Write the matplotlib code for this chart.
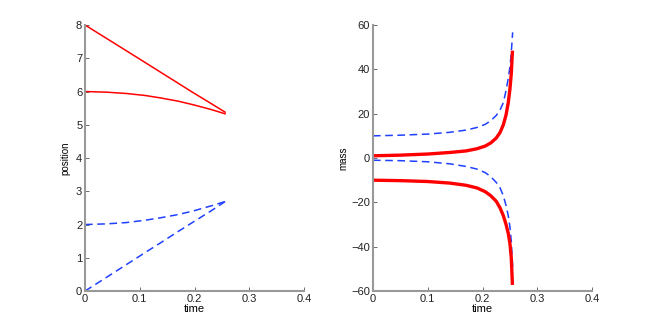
import matplotlib
matplotlib.use("Agg")
import matplotlib.pyplot as plt

plt.rcParams['font.family'] = ['Liberation Sans', 'DejaVu Sans']

# Position panel
t_pos = [0.0, 0.04, 0.076, 0.11, 0.137, 0.17, 0.198, 0.23, 0.2557]
pos_red1 = [8.0, 7.59, 7.22, 6.87, 6.59, 6.25, 5.96, 5.64, 5.38]
pos_red2 = [6.0, 5.98, 5.94, 5.88, 5.81, 5.71, 5.60, 5.46, 5.33]
pos_blue1 = [2.0, 2.02, 2.06, 2.13, 2.20, 2.30, 2.41, 2.56, 2.69]
pos_blue2 = [0.0, 0.42, 0.80, 1.16, 1.44, 1.79, 2.08, 2.41, 2.69]

# Mass panel
t_mass = [0.0, 0.05, 0.1, 0.14, 0.17, 0.19, 0.205, 0.215, 0.225, 0.232,
          0.238, 0.243, 0.247, 0.25, 0.2525, 0.2545]
mass_red1 = [1.0, 1.3, 1.8, 2.5, 3.2, 4.2, 5.4, 6.8, 9.0, 11.5,
             15.0, 19.5, 25.0, 31.0, 38.0, 47.7]
mass_red2 = [-10.0, -10.2, -10.6, -11.3, -12.3, -13.5, -15.2, -17.0, -19.5, -22.5,
             -26.0, -30.0, -34.0, -38.5, -45.0, -56.5]
t_mass_b = [0.0, 0.05, 0.1, 0.14, 0.17, 0.19, 0.205, 0.215, 0.225, 0.232,
            0.238, 0.243, 0.247, 0.25, 0.2525, 0.255]
mass_blue1 = [10.0, 10.3, 10.8, 11.6, 12.6, 13.8, 15.2, 16.8, 19.2, 21.6,
              25.0, 30.5, 36.0, 41.0, 47.5, 56.7]
mass_blue2 = [-1.0, -1.2, -1.7, -2.6, -3.8, -5.0, -6.6, -8.4, -11.0, -13.5,
              -17.0, -21.5, -26.0, -31.0, -37.5, -49.0]

fig = plt.figure(figsize=(6.54, 3.27), dpi=100)
ax1 = fig.add_axes([0.130, 0.110, 0.335, 0.8135])
ax2 = fig.add_axes([0.5703, 0.110, 0.335, 0.8135])

ax1.plot(t_pos, pos_red1, color='r', lw=1.1)
ax1.plot(t_pos, pos_red2, color='r', lw=1.1)
ax1.plot(t_pos, pos_blue1, color='#2040ff', lw=1.1, ls=(0, (5, 3)))
ax1.plot(t_pos, pos_blue2, color='#2040ff', lw=1.1, ls=(0, (5, 3)))
ax1.set_xlim(0, 0.4)
ax1.set_ylim(0, 8)
ax1.set_xticks([0, 0.1, 0.2, 0.3, 0.4])
ax1.set_xticklabels(['0', '0.1', '0.2', '0.3', '0.4'])
ax1.set_yticks(range(0, 9))
ax1.set_xlabel('time', fontsize=8, labelpad=0)
ax1.set_ylabel('position', fontsize=7, labelpad=4)

ax2.plot(t_mass_b, mass_blue1, color='#2040ff', lw=1.1, ls=(0, (5, 3)))
ax2.plot(t_mass_b, mass_blue2, color='#2040ff', lw=1.1, ls=(0, (5, 3)))
ax2.plot(t_mass, mass_red1, color='r', lw=2.4)
ax2.plot(t_mass, mass_red2, color='r', lw=2.4)
ax2.set_xlim(0, 0.4)
ax2.set_ylim(-60, 60)
ax2.set_xticks([0, 0.1, 0.2, 0.3, 0.4])
ax2.set_xticklabels(['0', '0.1', '0.2', '0.3', '0.4'])
ax2.set_yticks([-60, -40, -20, 0, 20, 40, 60])
ax2.set_yticklabels(['\u221260', '\u221240', '\u221220', '0', '20', '40', '60'])
ax2.set_xlabel('time', fontsize=8, labelpad=0)
ax2.set_ylabel('mass', fontsize=7, labelpad=2)

for ax in (ax1, ax2):
    for s in ('top', 'right'):
        ax.spines[s].set_visible(False)
    for s in ('left', 'bottom'):
        ax.spines[s].set_color('#999999')
        ax.spines[s].set_linewidth(1.5)
    ax.tick_params(direction='in', length=3, width=0.6, color='#555555',
                   labelsize=8, labelcolor='#222222', pad=2)

fig.savefig('out.png', dpi=100)
